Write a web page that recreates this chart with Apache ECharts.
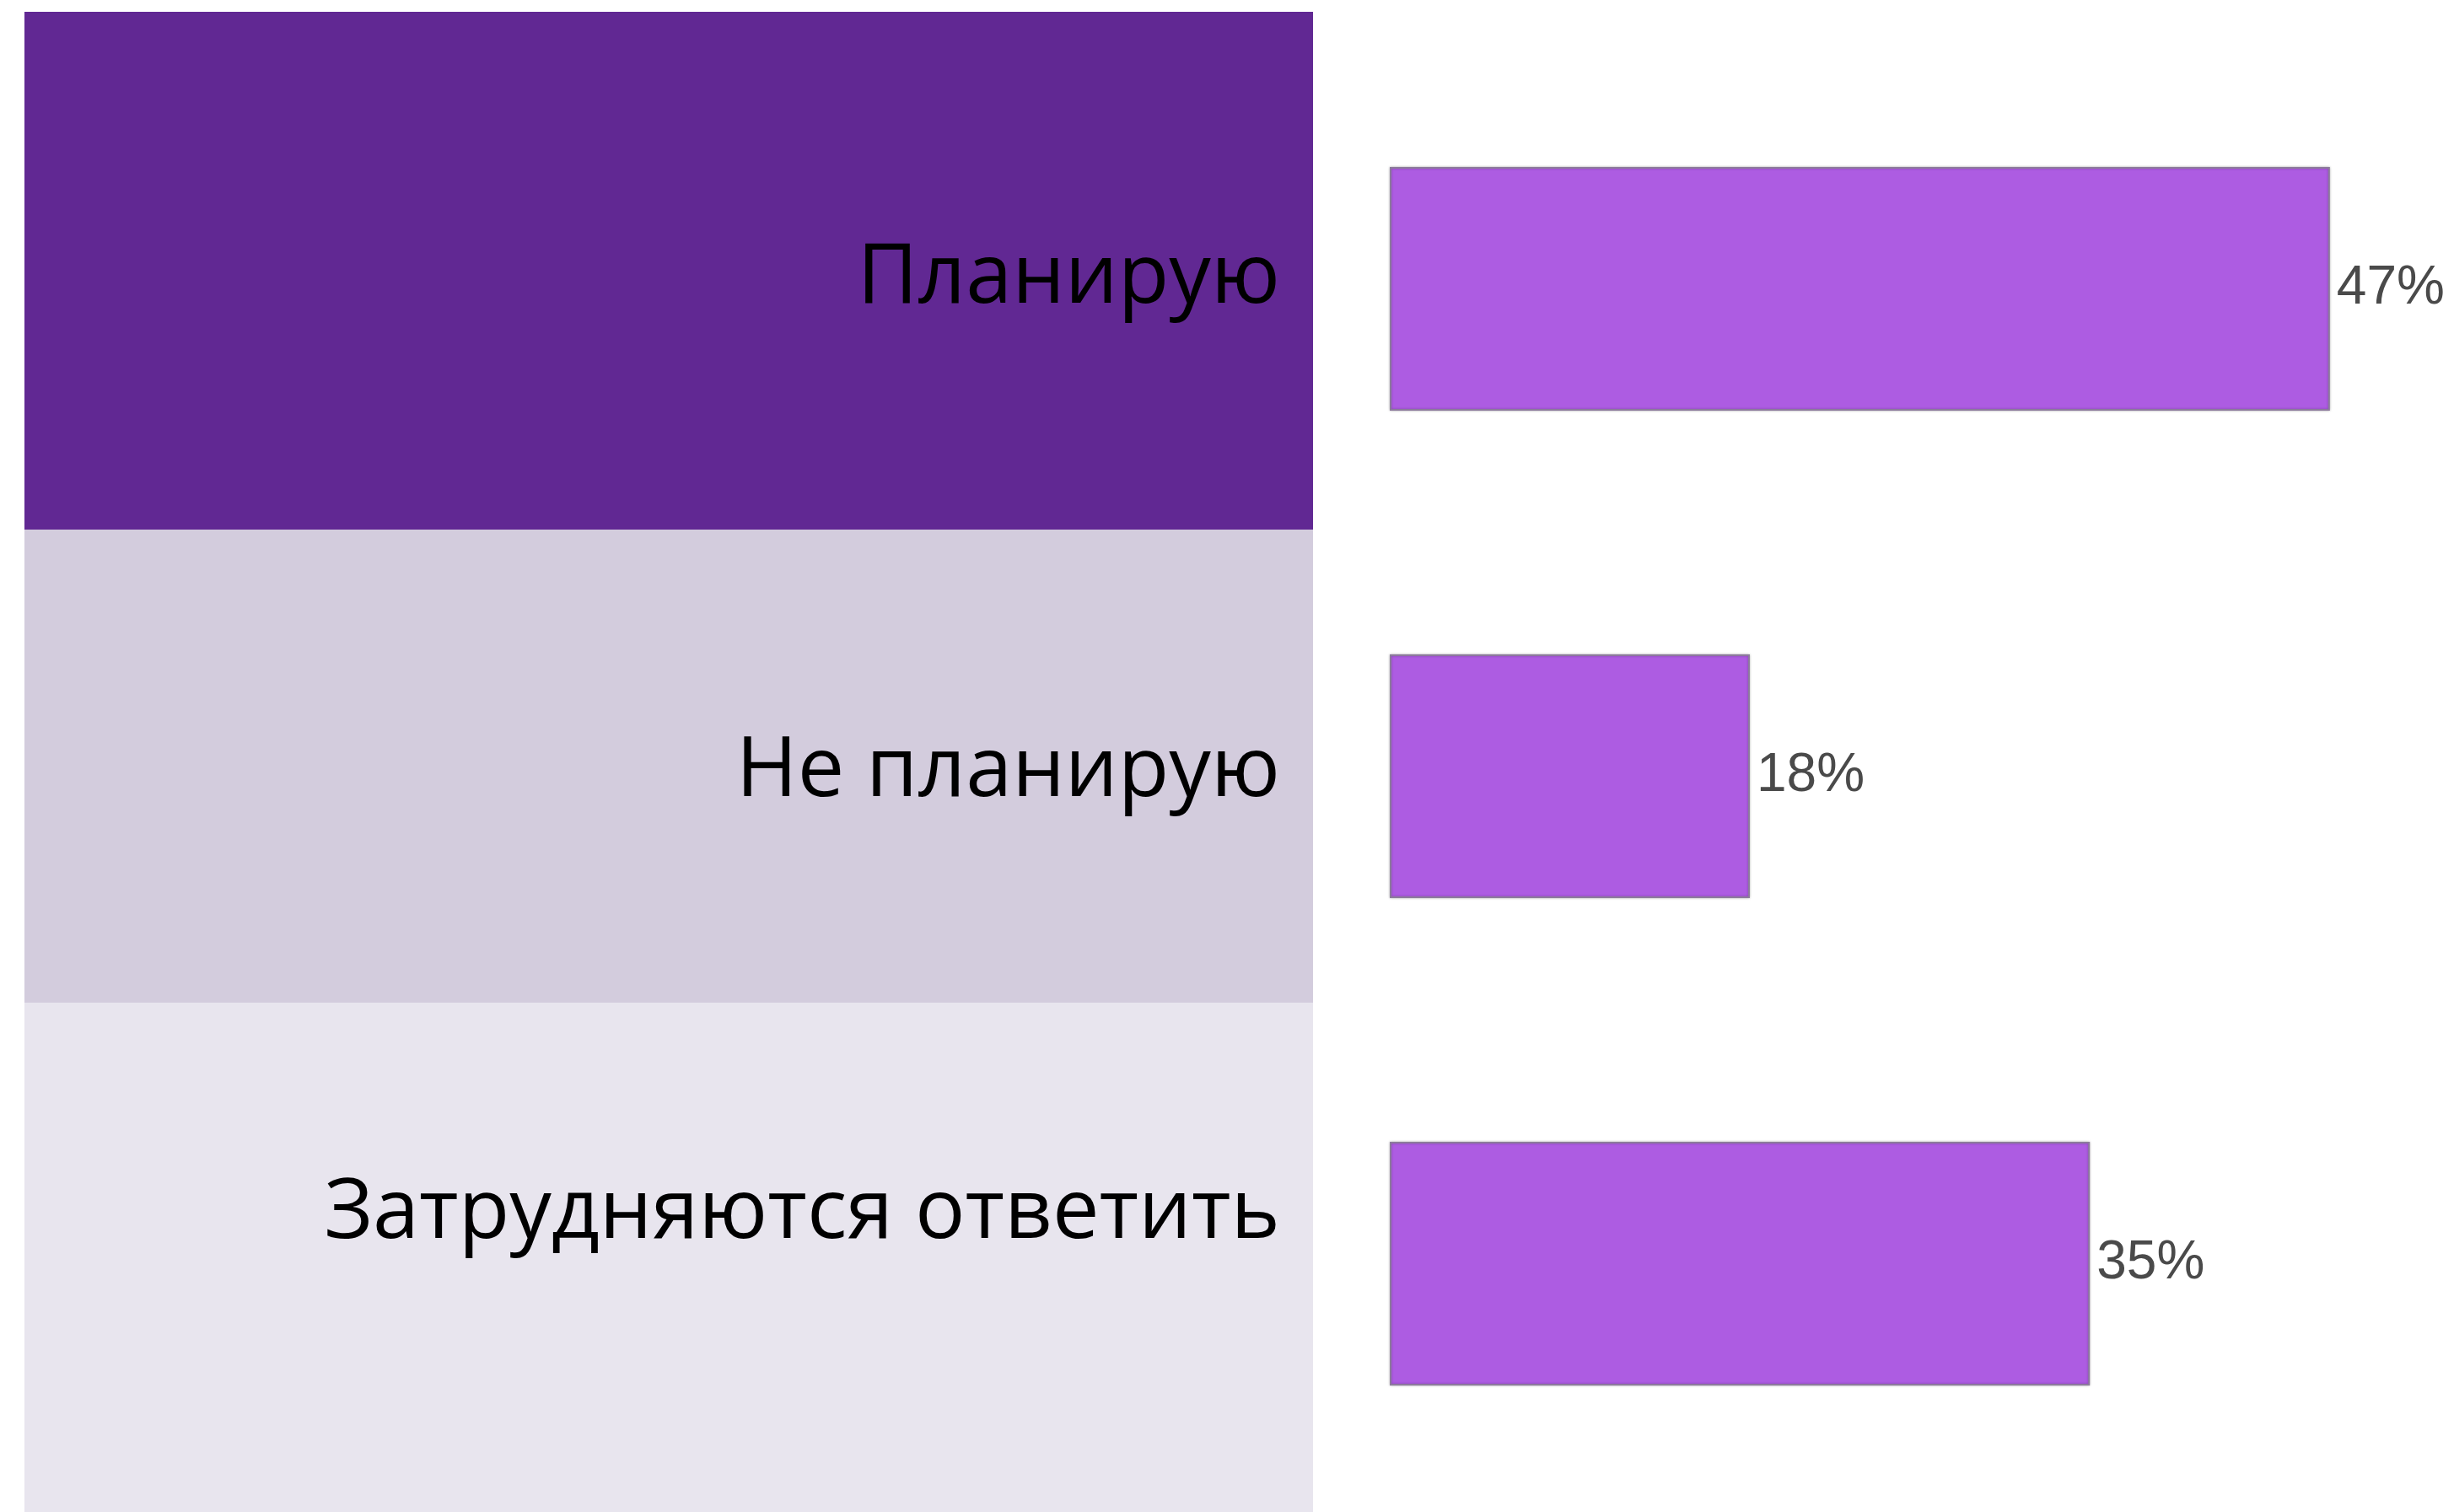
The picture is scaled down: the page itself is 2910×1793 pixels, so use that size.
<!DOCTYPE html>
<html>
<head>
<meta charset="utf-8">
<script src="https://cdn.jsdelivr.net/npm/echarts@6/dist/echarts.min.js"></script>
<style>
  html, body { margin: 0; padding: 0; background: #ffffff; }
  #chart { width: 2910px; height: 1793px; }
</style>
</head>
<body>
<div id="chart"></div>
<script>
// Survey answers and their shares, in percent
const categories = ['Планирую', 'Не планирую', 'Затрудняются ответить'];
const shares = [47, 18, 35];

// Background band behind each answer caption
const bandColors = ['#612893', '#D3CCDD', '#E8E5EE'];
const bandEdges = [14, 628, 1189, 1793];
const captionCenters = [331, 916, 1440];

const chart = echarts.init(document.getElementById('chart'), null, { renderer: 'canvas' });

const graphics = [];
categories.forEach((name, i) => {
  graphics.push({
    type: 'rect',
    silent: true,
    z: -10,
    shape: { x: 29, y: bandEdges[i], width: 1528, height: bandEdges[i + 1] - bandEdges[i] },
    style: { fill: bandColors[i] }
  });
  graphics.push({
    type: 'text',
    silent: true,
    x: 1518,
    y: captionCenters[i],
    style: {
      text: name,
      fill: '#000000',
      font: '400 99px "Open Sans", "Noto Sans", sans-serif',
      align: 'right',
      verticalAlign: 'middle'
    }
  });
});

chart.setOption({
  animation: false,
  backgroundColor: '#ffffff',
  graphic: graphics,
  grid: { left: 1648, right: 76, top: 53.5, bottom: 5.5, containLabel: false },
  xAxis: {
    type: 'value',
    min: 0,
    max: 50,
    show: false
  },
  yAxis: {
    type: 'category',
    data: categories,
    inverse: true,
    show: false
  },
  series: [{
    type: 'bar',
    data: shares,
    barCategoryGap: '50%',
    itemStyle: {
      color: '#AD5CE2',
      borderColor: '#8C7A9C',
      borderWidth: 2,
      shadowBlur: 3,
      shadowColor: 'rgba(0,0,0,0.25)'
    },
    label: {
      show: true,
      position: 'right',
      distance: 8,
      formatter: '{c}%',
      color: '#4A4A4A',
      fontFamily: '"Liberation Sans", Arial, sans-serif',
      fontSize: 64
    }
  }]
});
</script>
</body>
</html>
